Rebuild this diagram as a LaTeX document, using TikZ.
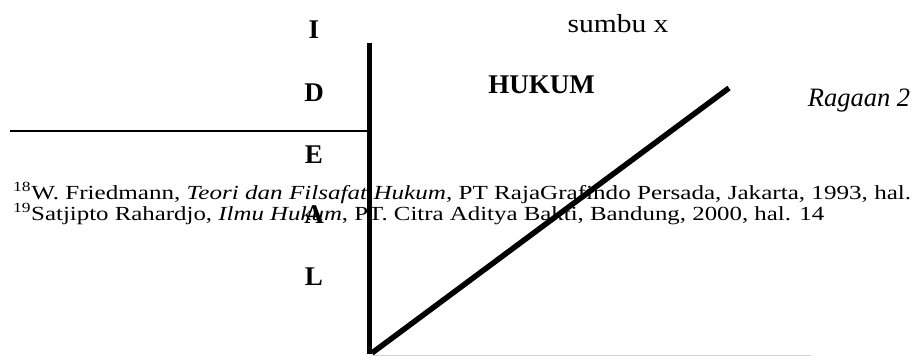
\documentclass[tikz,border=0pt]{standalone}
\usepackage{fontspec}
\setmainfont{Liberation Serif}
\usepackage{graphicx}
\begin{document}
\begin{tikzpicture}[x=1pt,y=-1pt,
  lbl/.style={inner sep=0pt, anchor=base, font=\fontsize{27}{30}\selectfont\bfseries},
  fn/.style={inner sep=0pt, anchor=base west, font=\fontsize{20}{22}\selectfont},
  plain/.style={inner sep=0pt, anchor=base},
  axisline/.style={line width=5.5pt, line cap=butt},
  thinline/.style={line width=1.8pt},
  baseline/.style={line width=1pt, draw=black!18}
]
\useasboundingbox (0,0) rectangle (916,356);
\fill[white] (0,0) rectangle (916,356);

% footnote text
\node[fn] (fn1) at (13,199.3) {\resizebox{898pt}{\height}{\textsuperscript{18}W. Friedmann, \textit{Teori dan Filsafat Hukum}, PT RajaGrafindo Persada, Jakarta, 1993, hal.}};
\node[fn] (fn2) at (13,220.5) {\resizebox{811pt}{\height}{\textsuperscript{19}Satjipto Rahardjo, \textit{Ilmu Hukum}, PT. Citra Aditya Bakti, Bandung, 2000, hal. 14}};

% vertical labels
\node[lbl] (lI) at (314,38.3) {I};
\node[lbl] (lD) at (314,101.7) {D};
\node[lbl] (lE) at (314,163.3) {E};
\node[lbl] (lA) at (314,223.3) {A};
\node[lbl] (lL) at (314,285) {L};

% other labels
\node[plain] (sumbu) at (618,32.3) {\resizebox{101pt}{\height}{\fontsize{26}{30}\selectfont sumbu x}};
\node[plain, font=\fontsize{27}{30}\selectfont\bfseries] (hukum) at (541.5,93.3) {HUKUM};
\node[plain, font=\fontsize{26.5}{30}\selectfont\itshape] (ragaan) at (859,106.7) {Ragaan 2};

% lines
\coordinate (vtop) at (369.5,42.7);
\coordinate (orig) at (369.5,354);
\coordinate (dstart) at (372,353);
\coordinate (dend) at (729,88);
\coordinate (hleft) at (10,130.7);
\coordinate (hright) at (367,130.7);
\coordinate (gstart) at (372,355.3);
\coordinate (gend) at (811,355.3);

\draw[baseline] (gstart) -- (gend);
\draw[thinline] (hleft) -- (hright);
\draw[axisline] (vtop) -- (orig);
\draw[axisline] (dstart) -- (dend);
\end{tikzpicture}
\end{document}
